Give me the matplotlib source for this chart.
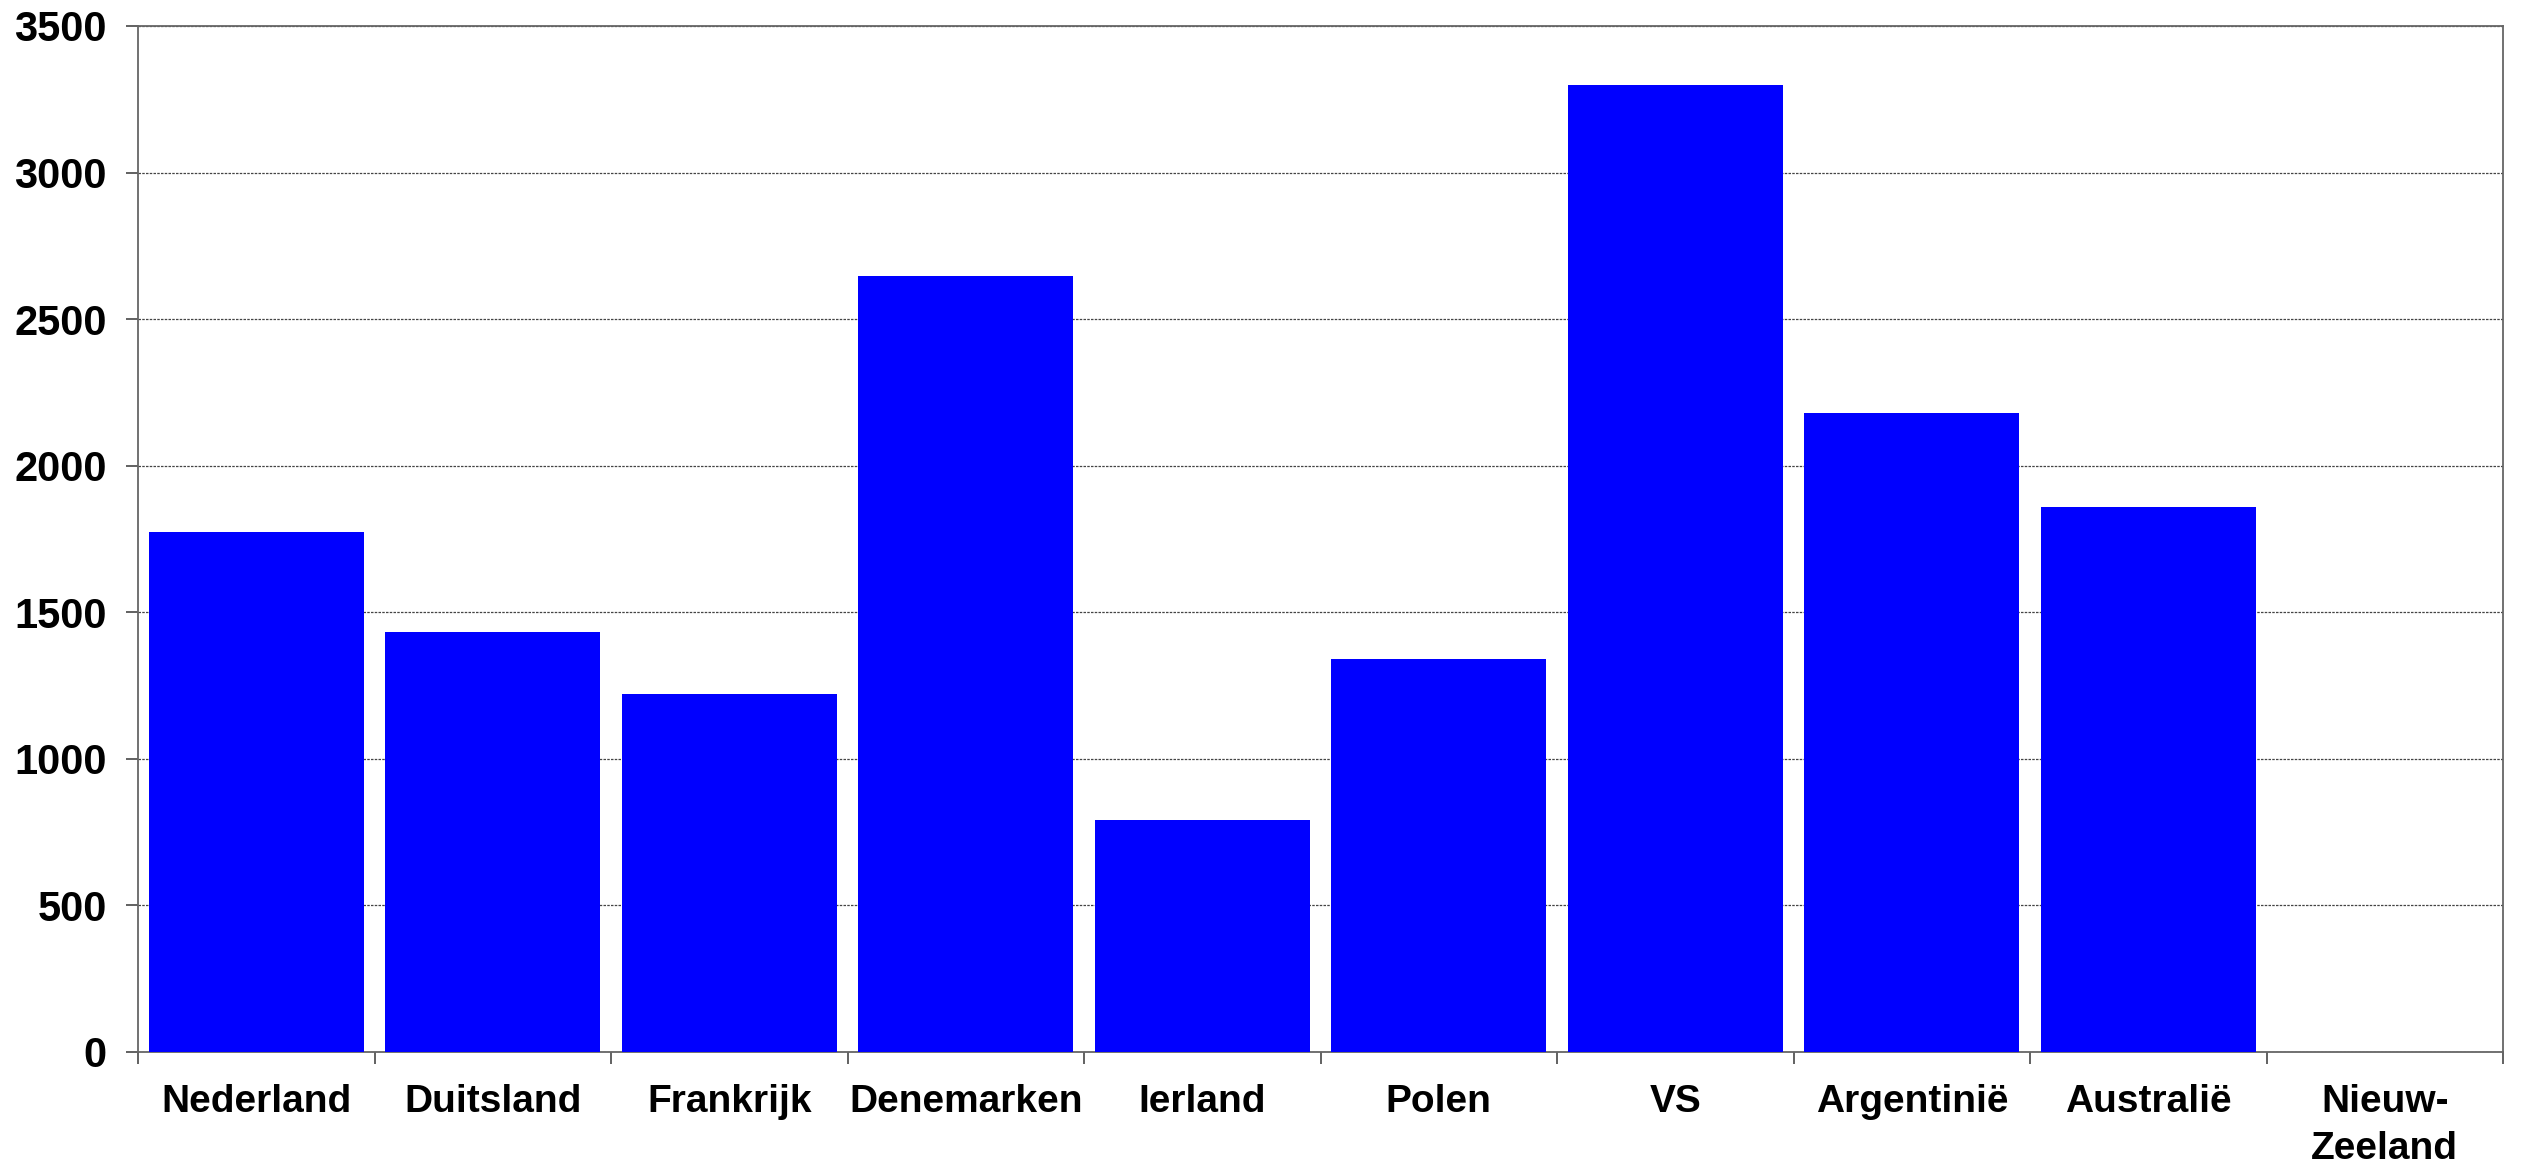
import numpy as np
import matplotlib
matplotlib.use('Agg')
import matplotlib.pyplot as plt

landen = ['Nederland', 'Duitsland', 'Frankrijk', 'Denemarken', 'Ierland',
          'Polen', 'VS', 'Argentinië', 'Australië', 'Nieuw-\nZeeland']
waarden = [1775, 1432, 1220, 2648, 792, 1340, 3297, 2181, 1860, 0]
y_ticks = [0, 500, 1000, 1500, 2000, 2500, 3000, 3500]

plt.rcParams['font.family'] = ['Liberation Sans', 'DejaVu Sans']
plt.rcParams['font.weight'] = 'bold'

fig = plt.figure(figsize=(25.24, 11.65), dpi=100)
ax = fig.add_axes([0.0547, 0.097, 0.9370, 0.8807])

x = np.arange(len(landen))
ax.bar(x, waarden, width=0.91, color='#0000ff', zorder=3)

ax.set_xlim(-0.5, len(landen) - 0.5)
ax.set_ylim(0, 3500)

# gridlijnen
ax.set_yticks(y_ticks)
ax.set_yticklabels([str(t) for t in y_ticks], fontsize=30, fontweight='bold')
ax.yaxis.grid(True, linestyle=(0, (2, 1)), linewidth=0.9, color='#444444', zorder=0)

# x-as: streepjes tussen de staven, labels in het midden
ax.set_xticks(np.arange(len(landen) + 1) - 0.5)
ax.set_xticklabels([])
ax.set_xticks(x, minor=True)
ax.set_xticklabels(landen, minor=True, fontsize=28, fontweight='bold',
                   linespacing=1.4)
ax.tick_params(axis='x', which='minor', length=0, pad=23)
ax.tick_params(axis='both', which='major', direction='out', length=8.5,
               width=1.3, color='#555555')
ax.tick_params(axis='y', pad=14)

for s in ax.spines.values():
    s.set_color('#666666')
    s.set_linewidth(1.3)

plt.savefig('out.png', dpi=100)
